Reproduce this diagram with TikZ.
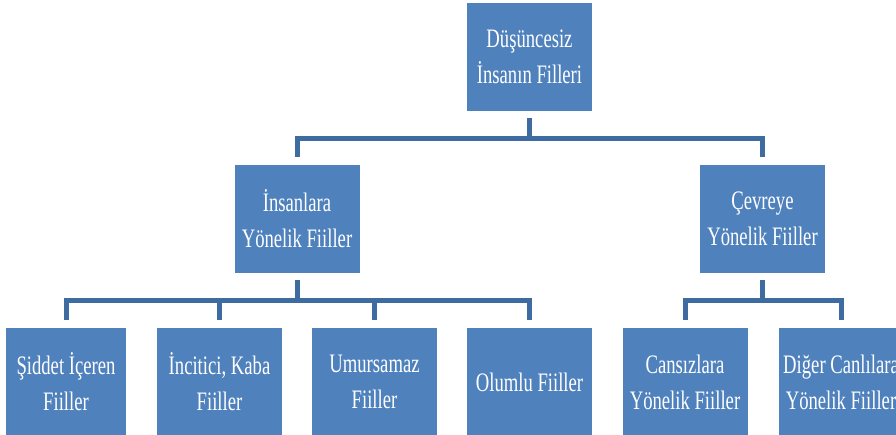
\documentclass[tikz,border=0pt]{standalone}
\usepackage{fontspec}
\setmainfont{Liberation Serif}[FakeStretch=0.7]
\usepackage{xcolor}
\usepackage{tikz}
\usetikzlibrary{positioning}
\definecolor{boxblue}{RGB}{79,129,189}
\definecolor{lineblue}{RGB}{62,108,160}

\begin{document}
\begin{tikzpicture}[
  x=0.75pt, y=0.75pt,
  font=\fontsize{20}{27}\selectfont,
  kutu/.style={fill=boxblue, text=white, align=center, inner sep=0pt, outer sep=0pt, minimum width=93.75pt, minimum height=81pt},
  ln/.style={draw=lineblue, line width=3.75pt, shorten <=5.25pt, shorten >=6pt},
]
\useasboundingbox (0,0) rectangle (896,-435);
\node[kutu] (top) at (529.5,-57) {Düşüncesiz\\İnsanın Filleri};
\node[kutu] (insan) at (297,-219) {İnsanlara\\Yönelik Fiiller};
\node[kutu] (cevre) at (762.5,-219) {Çevreye\\Yönelik Fiiller};
\node[kutu, minimum width=90pt] (siddet) at (66,-382) {Şiddet İçeren\\Fiiller};
\node[kutu] (incitici) at (219.5,-382) {İncitici, Kaba\\Fiiller};
\node[kutu] (umursamaz) at (374.5,-382) {Umursamaz\\Fiiller};
\node[kutu] (olumlu) at (529.5,-382) {Olumlu Fiiller};
\node[kutu] (cansiz) at (685,-382) {Cansızlara\\Yönelik Fiiller};
\node[kutu] (canli) at (841,-382) {Diğer Canlılara\\Yönelik Fiiller};
\draw[ln] (top.south) -- ++(0,-27) -| (insan.north); \draw[ln] (top.south) -- ++(0,-27) -| (cevre.north);
\draw[ln] (insan.south) -- ++(0,-27) -| (siddet.north); \draw[ln] (insan.south) -- ++(0,-27) -| (incitici.north);
\draw[ln] (insan.south) -- ++(0,-27) -| (umursamaz.north); \draw[ln] (insan.south) -- ++(0,-27) -| (olumlu.north);
\draw[ln] (cevre.south) -- ++(0,-27) -| (cansiz.north); \draw[ln] (cevre.south) -- ++(0,-27) -| (canli.north);
\end{tikzpicture}
\end{document}
